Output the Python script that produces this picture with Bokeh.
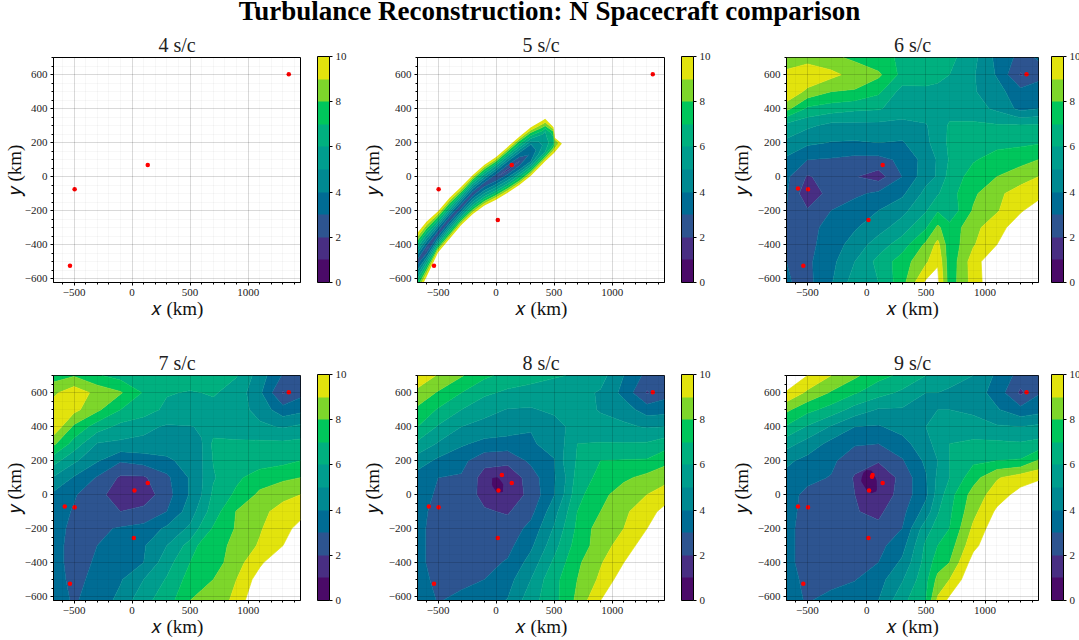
import numpy as np
from bokeh.embed import file_html
from bokeh.layouts import column, row
from bokeh.models import ColorBar, Div, FixedTicker, LinearColorMapper, Range1d
from bokeh.plotting import figure
from bokeh.resources import INLINE

TITLE = "Turbulance Reconstruction: N Spacecraft comparison"
SERIF = "Liberation Serif"

levels = [0, 1, 2, 3, 4, 5, 6, 7, 8, 9, 10]
colors = ["#4a0a68", "#482e83", "#2d5490", "#006c94", "#008992", "#009d8e",
          "#00b07f", "#00c65c", "#7dd62b", "#e2e30d"]
edge_colors = colors + ["#e2e30d"]

# spacecraft positions, each panel adds one
sc_x = [-535, -495, 135, 1350, 15, -580, 20, 50, 45]
sc_y = [-525, -75, 68, 603, -255, -70, 25, 115, 105]

grid_x = [-677, -500, -300, -100, 100, 300, 500, 600, 700, 900, 1100, 1300, 1451]
grid_y = [701, 600, 500, 400, 300, 200, 100, 0, -100, -200, -300, -400, -500, -623]

z6 = [
    [8.3, 8.4, 8.2, 7.8, 7.2, 6.9, 6.7, 6.5, 6.3, 5.3, 3.7, 2.7, 3.1],
    [9.3, 10.0, 9.3, 8.6, 8.2, 6.7, 6.2, 6.1, 6.0, 5.1, 3.9, 1.9, 2.6],
    [10.0, 8.7, 8.0, 7.9, 7.2, 5.6, 5.9, 5.9, 5.9, 5.1, 4.4, 3.3, 3.6],
    [8.3, 6.8, 6.5, 6.2, 6.1, 5.5, 5.6, 5.6, 5.7, 5.4, 4.8, 3.7, 4.0],
    [5.6, 5.2, 4.7, 4.7, 4.7, 4.7, 4.9, 5.6, 6.1, 6.2, 6.1, 6.1, 6.15],
    [4.8, 4.2, 3.95, 3.9, 4.0, 3.9, 4.8, 5.4, 6.2, 6.5, 6.7, 6.8, 6.9],
    [3.8, 3.0, 2.9, 2.7, 2.7, 3.2, 4.4, 5.1, 6.1, 6.9, 7.4, 7.6, 8.0],
    [3.2, 1.9, 2.4, 2.05, 1.55, 3.0, 4.6, 5.1, 6.4, 7.4, 8.0, 8.6, 9.0],
    [3.1, 1.3, 2.4, 2.8, 3.2, 3.8, 5.3, 5.9, 6.6, 7.8, 8.8, 9.4, 9.7],
    [3.0, 2.1, 3.0, 3.5, 4.0, 4.7, 5.9, 6.9, 6.3, 8.1, 8.9, 9.9, 10.5],
    [2.9, 2.6, 3.4, 3.9, 4.6, 5.5, 6.9, 8.2, 7.3, 8.7, 9.6, 10.6, 12],
    [2.9, 2.7, 3.5, 4.4, 5.5, 6.5, 8.2, 9.3, 7.3, 8.9, 10, 11, 12],
    [3.0, 2.8, 3.7, 5.0, 6.3, 7.5, 8.8, 9.9, 7.3, 9.5, 11, 12, 12],
    [3.1, 2.7, 3.9, 5.5, 6.0, 7.6, 10.2, 10.3, 7.4, 9.4, 11, 12, 12],
]

z7 = [
    [7.5, 7.9, 7.1, 6.6, 6.8, 7.0, 6.7, 6.4, 6.3, 6.05, 4.5, 2.9, 2.9],
    [8.8, 9.6, 8.7, 8.1, 6.9, 6.1, 5.9, 6.0, 6.1, 5.6, 4.2, 1.9, 2.7],
    [9.5, 9.3, 8.2, 7.0, 6.6, 5.7, 5.9, 5.8, 5.7, 5.5, 4.6, 3.4, 3.7],
    [9.8, 7.8, 6.5, 5.7, 5.2, 4.9, 4.95, 5.1, 5.6, 5.5, 5.2, 4.9, 5.2],
    [8.2, 6.6, 4.95, 4.8, 4.8, 4.85, 4.7, 4.95, 6.2, 6.15, 6.2, 6.2, 6.3],
    [6.4, 5.2, 4.1, 3.1, 3.4, 3.7, 4.6, 4.9, 6.05, 6.3, 6.5, 6.7, 7],
    [4.9, 3.9, 2.9, 1.85, 1.85, 2.8, 4.1, 4.9, 5.9, 6.8, 7.5, 7.8, 8],
    [3.8, 3.1, 2.3, 1.5, 1.4, 2.6, 4.1, 5, 6.2, 7.2, 8.2, 8.7, 9],
    [3.5, 2.9, 2.8, 2.0, 2.3, 3, 4.5, 5.5, 6.5, 8.05, 8.7, 9.4, 9.7],
    [3.3, 2.8, 2.8, 3.1, 3.3, 4.2, 5.2, 6.3, 7.1, 8.1, 8.9, 9.7, 10.3],
    [3.3, 2.7, 3, 3.3, 3.9, 5, 6.4, 7.3, 7.4, 8.4, 9.1, 10, 11],
    [3.3, 2.7, 3.1, 3.6, 4, 5.6, 7, 7.5, 7.5, 8.6, 9.8, 11, 12],
    [3.3, 2.8, 3.2, 3.9, 5, 6.1, 7.4, 7.6, 8.0, 9, 10.5, 12, 12],
    [3.4, 2.9, 3.4, 4.3, 5.7, 6.5, 8, 8.4, 8.1, 9.4, 11, 12, 12],
]

z8 = [
    [9.8, 8.9, 8.1, 7.2, 6.7, 6.4, 6.1, 6.0, 5.8, 5.4, 4.0, 2.7, 2.9],
    [8.7, 7.9, 7.0, 6.2, 5.8, 5.6, 5.5, 5.4, 5.3, 4.9, 3.7, 1.9, 2.6],
    [7.8, 6.9, 6.0, 5.3, 4.95, 4.9, 5.2, 5.3, 5.5, 4.9, 4.5, 3.5, 3.6],
    [7, 5.9, 5.0, 4.7, 4.6, 4.05, 4.6, 5, 5.5, 5.4, 5.2, 4.9, 5],
    [5.8, 4.9, 4.15, 3.7, 3.5, 3.9, 4.3, 5.1, 6.0, 6.05, 6.05, 6.1, 6.5],
    [4.5, 3.8, 3.3, 2.3, 2.3, 3.2, 3.95, 5.3, 6.1, 7, 7.05, 7.1, 7.7],
    [3.6, 3.0, 2.9, 1.6, 1.2, 2.5, 3.9, 5, 6.4, 7.3, 7.8, 8.3, 8.6],
    [3.3, 2.9, 2.6, 1.7, 1.3, 2.3, 3.95, 5.2, 6.7, 7.7, 8.5, 9, 9.5],
    [3.2, 2.8, 2.6, 2.1, 1.9, 2.7, 4.6, 5.8, 7, 8, 8.8, 9.6, 10.3],
    [3.2, 2.7, 2.6, 2.4, 2.4, 3.3, 5.1, 6.2, 7.2, 8.5, 9, 10, 11],
    [3.2, 2.7, 2.6, 2.5, 2.7, 3.8, 5.6, 6.6, 7.4, 8.5, 9.5, 10.5, 12],
    [3.2, 2.7, 2.7, 2.7, 3.1, 4.4, 6.2, 7, 7.8, 8.9, 10, 11, 12],
    [3.3, 2.8, 2.8, 3, 3.6, 5, 6.8, 7.2, 8, 9.2, 10.6, 12, 12],
    [3.5, 2.95, 3.2, 3.6, 4.05, 5.6, 6.7, 7.4, 8.25, 10, 12, 12, 12],
]

z9 = [
    [11, 10, 9, 8.2, 7.3, 6.8, 6, 5.8, 5.5, 5, 3.8, 2.6, 3],
    [9.9, 8.8, 7.9, 7.1, 6.4, 5.8, 5, 5, 4.8, 4.5, 3.6, 1.8, 2.9],
    [8.2, 7.3, 6.6, 5.6, 4.9, 4.9, 5, 5, 5, 4.8, 4.1, 3.3, 3.6],
    [6.9, 5.9, 4.9, 4.0, 3.9, 4.4, 5, 5.3, 5.5, 5.4, 5.1, 5, 5.2],
    [5.4, 4.6, 3.7, 3.1, 3, 3.6, 4.7, 5.3, 6.0, 6.2, 6.2, 6.1, 6.3],
    [4.2, 3.7, 3.2, 2.4, 2.1, 2.9, 4.2, 5, 6, 6.8, 7, 7.1, 8.1],
    [3.7, 3.2, 2.95, 1.9, 1.2, 2.3, 3.9, 5.2, 6, 7.6, 8.9, 9.5, 9.8],
    [3.3, 2.8, 2.7, 2, 1.3, 2.4, 3.8, 5.4, 6.6, 8.4, 9.5, 10.4, 11],
    [3.2, 2.8, 2.6, 2.05, 1.8, 2.7, 4.4, 5.9, 6.8, 8.7, 10.2, 12, 12],
    [3.2, 2.7, 2.6, 2.5, 2.2, 3, 5.6, 6.4, 7, 9.2, 10.7, 12, 12],
    [3.2, 2.7, 2.6, 2.6, 2.7, 3.6, 6.2, 7, 7.5, 9.7, 11, 12, 12],
    [3.2, 2.7, 2.65, 2.7, 3, 4.2, 6.4, 7.5, 8, 10.5, 12, 12, 12],
    [3.3, 2.8, 2.8, 2.95, 3.6, 4.9, 6.7, 8.3, 9, 11, 12, 12, 12],
    [3.2, 2.95, 3.2, 3.6, 4, 5.7, 7, 9.2, 10.3, 12, 12, 12, 12],
]

# darkest core (below 1) of 8 and 9 s/c, too small for the coarse grid
core8_x = [-50, -30, 10, 50, 80]
core8_y = [0, 20, 60, 95, 115]
core8_z = [
    [1.5, 1.5, 1.5, 1.5, 1.5],
    [1.5, 1.5, 0.8, 0.8, 1.5],
    [1.5, 0.8, 0.6, 0.7, 1.5],
    [1.5, 0.9, 0.7, 1.5, 1.5],
    [1.5, 1.5, 1.5, 1.5, 1.5],
]
core9_x = [-80, -40, 0, 40, 80, 110]
core9_y = [-20, 30, 80, 130, 180]
core9_z = [
    [1.5, 1.5, 1.5, 1.5, 1.5, 1.5],
    [1.5, 1.5, 0.95, 0.6, 0.85, 1.5],
    [1.5, 0.9, 0.6, 0.6, 0.9, 1.5],
    [1.5, 1.1, 0.8, 0.85, 1.3, 1.5],
    [1.5, 1.5, 1.5, 1.5, 1.5, 1.5],
]

# 5 s/c only fills a diagonal strip: y and z read across the strip at each x
band_x = [-677, -600, -500, -400, -300, -200, -100, 0, 100, 200, 300, 400, 423, 495, 503, 566]
band_y = [
    [-700, -650, -600, -550, -500, -460, -415, -375, -330],
    [-590, -550, -510, -475, -430, -385, -345, -305, -265],
    [-447, -420, -395, -365, -335, -300, -270, -235, -204],
    [-365, -340, -310, -280, -250, -220, -190, -155, -125],
    [-285, -260, -235, -205, -175, -145, -115, -90, -60],
    [-220, -195, -165, -130, -100, -70, -40, -15, 10],
    [-170, -145, -115, -80, -45, -15, 15, 45, 70],
    [-136, -110, -80, -45, -5, 35, 65, 90, 115],
    [-95, -70, -40, -5, 40, 90, 120, 150, 175],
    [-50, -25, 10, 40, 90, 140, 175, 210, 235],
    [5, 30, 60, 90, 135, 190, 225, 260, 290],
    [75, 100, 130, 155, 185, 215, 250, 290, 330],
    [90, 115, 145, 170, 195, 225, 265, 300, 340],
    [136, 160, 180, 190, 210, 235, 255, 275, 290],
    [142, 162, 178, 188, 200, 208, 215, 222, 230],
    [193, 193.2, 193.4, 193.6, 193.8, 194, 194.2, 194.4, 194.6],
]
band_z = [
    [10, 8, 6, 4, 2.5, 4, 6, 8, 10],
    [10, 8, 6, 4, 1.9, 4, 6, 8, 10],
    [10, 8, 6, 4, 2.2, 4, 6, 8, 10],
    [10, 8, 6, 4, 2.2, 4, 6, 8, 10],
    [10, 8, 6, 4, 2.3, 4, 6, 8, 10],
    [10, 8, 6, 4, 2.3, 4, 6, 8, 10],
    [10, 8, 6, 4, 2.4, 4, 6, 8, 10],
    [10, 8, 6, 4, 2.0, 4, 6, 8, 10],
    [10, 8, 6, 4, 1.7, 4, 6, 8, 10],
    [10, 8, 6, 4, 1.9, 4, 6, 8, 10],
    [10, 8, 6, 4, 3.2, 4, 6, 8, 10],
    [10, 8, 6, 5.5, 5, 5.5, 6, 8, 10],
    [10, 8, 6, 5.7, 5.4, 5.7, 6, 8, 10],
    [10, 8.5, 7.5, 7, 6.8, 7, 7.5, 8.5, 10],
    [10, 9, 8.5, 8, 8, 8, 8.5, 9, 10],
    [10, 10, 10, 10, 10, 10, 10, 10, 10],
]

x_ticks = [-500, 0, 500, 1000]
x_minor = [-600, -400, -300, -200, -100, 100, 200, 300, 400, 600, 700, 800, 900, 1100, 1200, 1300, 1400]
y_ticks = [-600, -400, -200, 0, 200, 400, 600]
y_minor = [-550, -500, -450, -350, -300, -250, -150, -100, -50, 50, 100, 150, 250, 300, 350, 450, 500, 550, 650, 700]


def panel(name, n_sc, fill, width, height, left=51, right=None, core=None, bar_gap=17):
    p = figure(width=width, height=height,
               x_range=Range1d(-677, 1451), y_range=Range1d(-623, 701),
               min_border_left=left, min_border_top=27, min_border_bottom=height - 253,
               min_border_right=right, output_backend="svg", toolbar_location=None)
    p.title.text = name
    p.title.align = "center"
    p.title.text_font = SERIF
    p.title.text_font_size = "20px"
    p.title.text_font_style = "normal"
    p.title.text_color = "#222222"
    p.title.standoff = 4

    if fill is not None:
        p.contour(*fill, levels, fill_color=colors, line_color=edge_colors, line_width=0.7)
    if core is not None:
        p.contour(*core, [0, 1], fill_color=colors[:1])
    p.scatter(sc_x[:n_sc], sc_y[:n_sc], size=4.5, color="#ff0000", line_color=None)

    p.xaxis.ticker = FixedTicker(ticks=x_ticks, minor_ticks=x_minor)
    p.yaxis.ticker = FixedTicker(ticks=y_ticks, minor_ticks=y_minor)
    p.xgrid.ticker = p.xaxis.ticker
    p.ygrid.ticker = p.yaxis.ticker
    p.xaxis.major_label_overrides = {t: str(t).replace("-", "\u2212") for t in x_ticks}
    p.yaxis.major_label_overrides = {t: str(t).replace("-", "\u2212") for t in y_ticks}
    p.xaxis.axis_label = "\U0001d465 (km)"
    p.yaxis.axis_label = "\U0001d466 (km)"
    for ax in (p.xaxis[0], p.yaxis[0]):
        ax.axis_label_text_font = SERIF
        ax.axis_label_text_font_size = "19px"
        ax.axis_label_text_font_style = "normal"
        ax.axis_label_text_color = "#111111"
        ax.axis_label_standoff = -1
        ax.major_label_text_font = SERIF
        ax.major_label_text_font_size = "11px"
        ax.major_label_text_color = "#222222"
        ax.major_label_standoff = 3
        ax.major_tick_in = 0
        ax.major_tick_out = 3
        ax.minor_tick_in = 0
        ax.minor_tick_out = 2
        ax.major_tick_line_color = "#000000"
        ax.minor_tick_line_color = "#000000"
        ax.axis_line_color = "#000000"
    p.yaxis[0].axis_label_standoff = left - 48
    for g in (p.xgrid[0], p.ygrid[0]):
        g.level = "overlay"
        g.grid_line_color = "#000000"
        g.grid_line_alpha = 0.15
        g.minor_grid_line_color = "#000000"
        g.minor_grid_line_alpha = 0.03
    p.outline_line_color = "#000000"
    p.outline_line_alpha = 1

    bar = ColorBar(color_mapper=LinearColorMapper(palette=colors, low=0, high=10),
                   ticker=FixedTicker(ticks=[0, 2, 4, 6, 8, 10]),
                   width=12, height=226, margin=0, padding=0,
                   major_tick_in=0, major_tick_out=3, minor_tick_in=0,
                   major_tick_line_color="#000000", bar_line_color="#000000",
                   major_label_text_font=SERIF, major_label_text_font_size="11px",
                   major_label_text_color="#222222", label_standoff=3,
                   location=(bar_gap, 0))
    p.add_layout(bar, "right")
    return p


xg = np.array(grid_x)
yg = np.array(grid_y[::-1])


def on_grid(z):
    return xg, yg, np.array(z)[::-1]


band_xx = np.tile(np.array(band_x)[:, None], (1, 9))
band_fill = (band_xx, np.array(band_y, dtype=float), np.array(band_z))
core8 = (np.array(core8_x), np.array(core8_y), np.array(core8_z))
core9 = (np.array(core9_x), np.array(core9_y), np.array(core9_z))

row1 = row(
    panel("4 s/c", 4, None, 358, 318, left=45, right=58),
    panel("5 s/c", 5, band_fill, 369, 318, right=63),
    panel("6 s/c", 6, on_grid(z6), 356, 318, right=45, bar_gap=13),
    spacing=0,
)
row2 = row(
    panel("7 s/c", 7, on_grid(z7), 358, 293, left=45, right=58),
    panel("8 s/c", 8, on_grid(z8), 369, 293, right=63, core=core8),
    panel("9 s/c", 9, on_grid(z9), 356, 293, right=45, core=core9, bar_gap=13),
    spacing=0,
)
head = Div(text=TITLE, width=1071, height=29, margin=0,
           styles={"font-family": SERIF, "font-weight": "bold", "font-size": "27px",
                   "color": "#000000", "text-align": "center", "line-height": "22px",
                   "position": "relative", "left": "14px"})
p = column(head, row1, row2, spacing=0)

open("out.html", "w").write(file_html(p, INLINE))
